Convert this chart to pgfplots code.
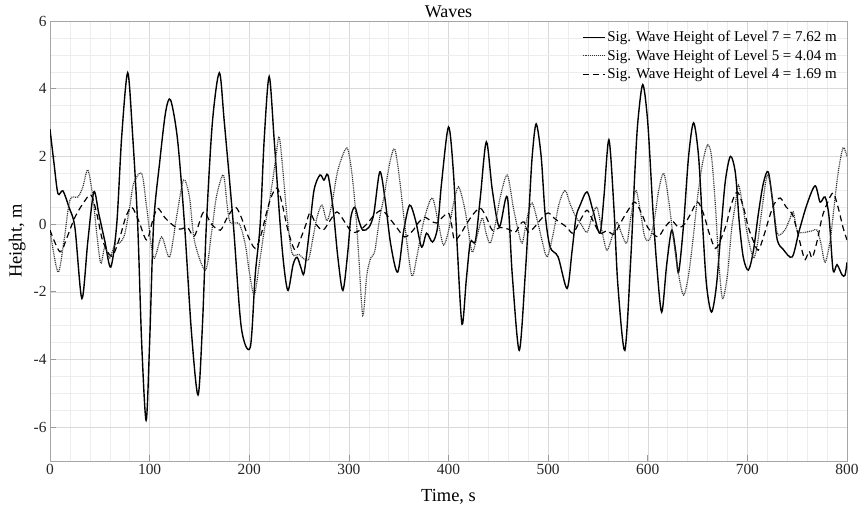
\documentclass[border=0pt]{standalone}
\usepackage{fontspec}
\setmainfont{Liberation Serif}
\usepackage{pgfplots}
\pgfplotsset{compat=1.18}
\begin{document}
\begin{tikzpicture}
\path[use as bounding box] (-50bp,-52bp) rectangle (811bp,461bp);
\begin{axis}[
  at={(0,0)}, anchor=south west,
  width=797bp, height=440bp, scale only axis,
  xmin=0, xmax=800, ymin=-7, ymax=6,
  xtick={0,100,...,800}, ytick={-6,-4,...,6},
  minor x tick num=4, minor y tick num=3,
  grid=both,
  major grid style={black!15, line width=0.5pt},
  minor grid style={black!7, line width=0.5pt},
  axis line style={black!35, line width=0.6pt},
  major tick style={black!40, line width=0.6pt},
  major tick length=6bp, minor tick length=0pt,
  tick align=inside, tick pos=left,
  /pgf/number format/assume math mode=true,
  ticklabel style={font=\fontsize{15.5}{18}\selectfont, text=black!85},
  title=Waves,
  title style={font=\fontsize{18}{20}\selectfont, at={(axis description cs:0.5,1)}, anchor=south, inner sep=0bp, yshift=-3bp},
  xlabel={Time, s},
  ylabel={Height, m},
  xlabel style={font=\fontsize{18.5}{21}\selectfont, at={(axis description cs:0.5,0)}, anchor=center, yshift=-36bp},
  ylabel style={font=\fontsize{18.5}{21}\selectfont, at={(axis description cs:-0.041,0.5)}, anchor=center},
  legend cell align=left,
  legend style={at={(rel axis cs:0.991,0.984)}, anchor=north east, draw=none, fill=none,
    font=\fontsize{15}{18}\selectfont, row sep=2.5bp, inner sep=1pt},
  legend image code/.code={\draw[#1] (0bp,0bp) -- (22bp,0bp);},
]
\addplot[black, line width=1.4pt, smooth, tension=0.5] coordinates {
(0,2.8)(4,1.8)(8,0.9)(13,0.98)(19,0.5)(25,-0.1)(32,-2.2)(38,-0.5)(44,0.95)(49,0.3)(55,-0.5)(61,-1.27)
(67,0)(72,2.6)(78,4.47)(83,2.6)(88,0)(92,-3.5)(96.5,-5.8)(100,-3.5)(104,0)(110,1.8)(116,3.3)(121,3.67)
(128,2.5)(135,0)(142,-3.2)(148.6,-5.05)(153,-3)(157,0)(163,3)(170,4.47)(175,3)(184,0)(192,-3.05)(201,-3.64)
(206,-1.5)(211,0)(215,2.5)(220,4.36)(225,2.5)(231,0)(235,-1.3)(239,-1.96)(244,-1.2)(248,-0.98)(252,-1.3)(255,-1.45)
(260,-0.3)(265,1.0)(271,1.45)(275,1.3)(279,1.45)(284,0.5)(289,-1.0)(294,-1.96)(299,-0.8)(302,0.2)(306,0.5)(310,0.1)
(314,-0.18)(320,-0.1)(325,0.3)(331,1.54)(336,0.8)(342,-0.6)(349,-1.42)(355,-0.2)(361,0.56)(367,0.1)(373,-0.68)
(378,-0.27)(384,-0.53)(389,-0.1)(393,1.2)(400,2.87)(405,1.5)(409,-0.8)(413.6,-2.96)(418,-1.6)(422,-0.53)(427,-0.5)
(432,0.8)(438,2.43)(444,1.0)(451,-0.08)(459,0.8)(464,-1.5)(471,-3.73)(477,-1.5)(481,0.5)(484,2.0)(488,2.96)
(493,2.0)(497,0.3)(502,-0.68)(510,-0.97)(519,-1.9)(524,-0.8)(528,0.2)(532,0.55)(539,0.95)(545,0.4)(552,-0.27)
(556,0.8)(561,2.49)(566,0.5)(570,-1.8)(577,-3.73)(583,-1.0)(587,1.5)(590,3.0)(595,4.12)(600,3.0)(605,0.5)
(609,-1.2)(614,-2.6)(619,-1.2)(624,-0.18)(628,-0.8)(631,-1.42)(636,0.0)(641,2.0)(646,2.99)(651,2.0)(655,0.0)
(659,-1.8)(664,-2.6)(669,-1.8)(674,0)(678,1.3)(683,2.0)(688,1.5)(692,0)(696,-1.0)(701,-1.36)(706,-0.8)
(711,0.3)(716,1.2)(721,1.54)(726,0.5)(730,-0.47)(736,-0.75)(745,-0.97)(752,-0.2)(760,0.6)(768,1.13)(773,0.65)
(778,0.8)(782,0.2)(786,-1.36)(790,-1.2)(795,-1.5)(798,-1.51)(800,-1.13)
};
\addlegendentry{Sig. Wave Height of Level 7 = 7.62 m}
\addplot[black!80, line width=1.2pt, dash pattern=on 1pt off 0.9pt, smooth, tension=0.5] coordinates {
(0,-0.18)(8,-1.42)(14,-0.5)(20,0.71)(28,0.8)(33,1.1)(38,1.6)(43,0.8)(47,-0.3)(51,-1.16)(55,-0.68)(60,-1.0)
(65,-0.6)(70,-0.56)(75,-0.3)(80,0.5)(84,1.2)(92,1.5)(97,0.5)(104,-1.0)(112,-0.38)(120,-0.97)(127,0.2)(134,1.3)
(140,0.8)(145,-0.5)(156,-1.36)(162,-0.3)(167,0.8)(174,1.45)(178,0.5)(181,0.05)(190,0.0)(196,-0.6)(200,-1.4)
(205,-2.1)(210,-1.2)(215,-0.2)(221,0.8)(226,1.8)(230,2.58)(234,1.5)(238,0.2)(243,-0.86)(250,-0.9)(259,-1.07)
(264,-0.4)(268,0.2)(273,0.56)(278,0.1)(283,0.6)(289,1.6)(298,2.25)(303,1.5)(307,0.3)(310,-1.0)(314,-2.7)
(318,-1.5)(322,-1.0)(326,-0.8)(331,0.2)(335,0.77)(341,1.8)(346,2.22)(351,1.3)(356,0)(363,-1.51)(368,-1.0)
(373,-0.2)(378,0.4)(384,0.77)(390,0)(395,-0.62)(400,-0.2)(405,0.6)(410,1.1)(416,0.5)(420,-0.2)(424,-0.83)
(430,-0.2)(434,0.18)(438,-0.3)(442,-0.56)(447,0.0)(452,0.8)(459,1.45)(465,0.5)(470,-0.2)(474,-0.56)(479,0.2)
(484,0.62)(490,0.0)(494,-0.5)(499,-0.97)(505,-0.3)(511,0.6)(517,1.0)(522,0.6)(528,0.2)(533,0.0)(539,-0.24)
(544,0.2)(549,0.5)(554,-0.2)(559,-0.77)(565,-0.3)(569,0.06)(574,-0.3)(579,-0.56)(583,0.2)(588,1.0)(593,0.3)
(597,-0.38)(602,-0.45)(607,0.2)(611,1.0)(616,1.5)(621,0.7)(626,-0.5)(631,-1.5)(636,-2.1)(641,-1.5)(646,-0.3)
(650,0.8)(655,1.8)(660,2.34)(664,2.0)(668,0.5)(671,-1.0)(675,-2.2)(680,-1.5)(684,-0.2)(688,0.6)(691,1.16)
(695,0.6)(700,-0.3)(706,-1.0)(710,-0.6)(714,0.3)(720,1.45)(725,0.8)(730,-0.27)(737,-0.2)(742,0.1)(746,0.36)
(750,-0.2)(756,-0.25)(765,-0.2)(770,-0.18)(774,-0.6)(778,-1.13)(783,-0.5)(787,0.5)(791,1.5)(796,2.25)(800,2.0)
};
\addlegendentry{Sig. Wave Height of Level 5 = 4.04 m}
\addplot[black, line width=1.2pt, dash pattern=on 6bp off 4bp, smooth, tension=0.5] coordinates {
(0,-0.18)(10,-0.82)(17,-0.4)(25,0.2)(33,0.6)(41,0.86)(47,0.3)(53,-0.5)(62,-0.95)(70,-0.4)(76,0.2)(82,0.5)
(89,0.1)(97,-0.47)(103,0.1)(108,0.47)(115,0.2)(122,0.0)(130,-0.15)(138,-0.1)(145,-0.35)(154,0.35)(162,0.0)
(171,-0.18)(178,0.2)(186,0.5)(192,0.2)(198,-0.3)(206,-0.72)(212,-0.3)(217,0.3)(222,0.8)(228,1.07)(233,0.6)
(239,-0.2)(246,-0.77)(252,-0.4)(257,0.0)(261,0.33)(267,0.0)(274,-0.18)(281,0.1)(288,0.36)(295,0.1)(303,-0.24)
(310,-0.2)(318,0.0)(325,0.25)(333,0.41)(340,0.2)(348,-0.1)(356,-0.38)(364,-0.2)(370,0.05)(376,0.2)(382,0.1)
(388,0.03)(394,0.2)(400,0.33)(403,0.0)(406,-0.47)(412,-0.3)(418,0.0)(425,0.3)(432,0.47)(438,0.2)(444,-0.18)
(452,-0.1)(460,-0.15)(467,-0.24)(472,0.0)(476,0.06)(480,-0.24)(486,-0.1)(493,0.15)(500,0.33)(507,0.15)(513,0.03)
(519,-0.1)(525,-0.27)(532,0.1)(539,0.41)(545,0.1)(552,-0.27)(559,-0.2)(566,-0.3)(572,0.0)(579,0.35)(587,0.65)
(594,0.3)(600,-0.1)(610,-0.38)(617,-0.1)(624,0.1)(631,-0.1)(637,0.0)(643,0.3)(650,0.65)(656,0.3)(662,-0.3)
(668,-0.72)(674,-0.4)(679,0.0)(684,0.6)(690,0.95)(696,0.5)(701,-0.1)(706,-0.5)(711,-0.77)(717,-0.3)(722,0.2)
(727,0.6)(733,0.77)(739,0.5)(745,0.3)(750,-0.2)(755,-0.8)(758,-1.05)(762,-0.8)(765,-1.0)(770,-0.5)(775,0.2)
(780,0.6)(786,0.92)(791,0.5)(796,-0.1)(800,-0.47)
};
\addlegendentry{Sig. Wave Height of Level 4 = 1.69 m}
\end{axis}
\end{tikzpicture}
\end{document}
